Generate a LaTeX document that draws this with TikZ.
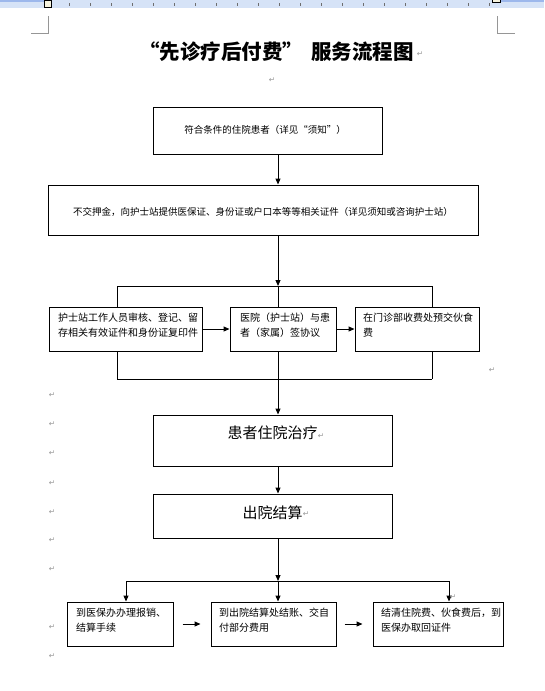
\documentclass[tikz,border=0pt]{standalone}
\usepackage{fontspec}
\newfontfamily\cjk{Noto Sans CJK SC}
\newfontfamily\dvs{DejaVu Sans}
\usetikzlibrary{arrows.meta,calc}
\definecolor{rulerbg}{RGB}{214,227,247}
\definecolor{rulerdk}{RGB}{157,184,236}
\definecolor{markgray}{RGB}{150,150,150}
\definecolor{tickgray}{RGB}{110,110,110}
\definecolor{pale}{RGB}{246,243,222}
\begin{document}
\begin{tikzpicture}[x=1pt,y=-1pt,
  box/.style={draw, line width=1pt, inner sep=0pt},
  txt/.style={font=\cjk\fontsize{10}{15}\selectfont, inner sep=0pt, align=left, anchor=north west},
  stxt/.style={font=\cjk\fontsize{9.5}{12}\selectfont, inner sep=0pt},
  btxt/.style={font=\cjk\fontsize{15}{18}\selectfont, inner sep=0pt},
  arr/.style={line width=1pt, -{Triangle[length=6pt,width=5pt]}},
  ln/.style={line width=1pt},
  ret/.style={font=\dvs\fontsize{7.5}{8}\selectfont, text=markgray, inner sep=0pt}]
\useasboundingbox (0,0) rectangle (544,691);
\fill[white] (0,0) rectangle (544,691);
% ruler
\fill[rulerbg] (0,0) rectangle (544,8);
\fill[rulerdk] (0,0) rectangle (44,2);
\fill[rulerdk] (501,0) rectangle (544,2);
\foreach \i in {0,...,20} \draw[tickgray, line width=0.8pt] ({69+21*\i},3) -- ({69+21*\i},6);
\draw[fill=pale, line width=1pt] (44.5,0) rectangle (51.5,7);
\draw[fill=pale, line width=1pt] (492.5,-4) rectangle (500.5,2);
% crop marks
\draw[markgray, line width=1pt] (48,16) -- (48,33) -- (31,33);
\draw[markgray, line width=1pt] (497,16) -- (497,33) -- (515,33);
% title
\node[font=\cjk\bfseries\fontsize{20.5}{24}\selectfont, inner sep=0pt] (title) at (275,52) {\hspace{3pt}“先诊疗后付费”\hspace{8pt}服务流程图};
% boxes
\node[box, minimum width=229pt, minimum height=47pt] (b1) at (267.5,130.5) {};
\node[box, minimum width=430pt, minimum height=50pt] (b2) at (263,210) {};
\node[box, minimum width=153pt, minimum height=44pt] (b3a) at (125.5,329) {};
\node[box, minimum width=106pt, minimum height=44pt] (b3b) at (283,329) {};
\node[box, minimum width=124pt, minimum height=44pt] (b3c) at (417,329) {};
\node[box, minimum width=239pt, minimum height=51pt] (b4) at (272.5,440.5) {};
\node[box, minimum width=239pt, minimum height=44pt] (b5) at (272.5,516) {};
\node[box, minimum width=106pt, minimum height=44pt] (b6a) at (120,624) {};
\node[box, minimum width=125pt, minimum height=44pt] (b6b) at (273.5,624) {};
\node[box, minimum width=130pt, minimum height=44pt] (b6c) at (438,624) {};
% texts
\node[stxt] (t1) at (265,130) {符合条件的住院患者（详见“须知”）};
\node[stxt] (t2) at (263,212) {不交押金，向护士站提供医保证、身份证或户口本等等相关证件（详见须知或咨询护士站）};
\node[txt] (t3a) at (58,313) {护士站工作人员审核、登记、留\\存相关有效证件和身份证复印件};
\node[txt] (t3b) at (240,313) {医院（护士站）与患\\者（家属）签协议};
\node[txt] (t3c) at (363,313) {在门诊部收费处预交伙食\\费};
\node[btxt] (t4) at (272.5,433) {患者住院治疗};
\node[btxt] (t5) at (272.5,513) {出院结算};
\node[txt] (t6a) at (76,608) {到医保办办理报销、\\结算手续};
\node[txt] (t6b) at (219,608) {到出院结算处结账、交自\\付部分费用};
\node[txt] (t6c) at (381,608) {结清住院费、伙食费后，到\\医保办取回证件};
% connectors
\coordinate (mx) at (278,0);
\coordinate (fTL) at (117,286);
\coordinate (fTM) at (278,286);
\coordinate (fTR) at (432,286);
\coordinate (fBL) at (117,379);
\coordinate (fBM) at (278,379);
\coordinate (fBR) at (432,379);
\coordinate (jL) at (126,581);
\coordinate (jM) at (278,581);
\coordinate (jR) at (449,581);
\draw[arr] (b1.south -| mx) -- (b2.north -| mx);
\draw[arr] (b2.south -| mx) -- (fTM);
\draw[ln] (fTL) -- (fTR);
\draw[ln] (fBL) -- (fBR);
\draw[ln] (fTL) -- (fTL |- b3a.north);
\draw[ln] (fTM) -- (fTM |- b3b.north);
\draw[ln] (fTR) -- (fTR |- b3c.north);
\draw[ln] (fBL |- b3a.south) -- (fBL);
\draw[ln] (fBM |- b3b.south) -- (fBM);
\draw[ln] (fBR |- b3c.south) -- (fBR);
\draw[arr] (b3a) -- (b3b);
\draw[arr] (b3b) -- (b3c);
\draw[arr] (fBM) -- (fBM |- b4.north);
\draw[arr] (b4.south -| mx) -- (b5.north -| mx);
\draw[arr] (b5.south -| mx) -- (jM);
\draw[ln] (jL) -- (jR);
\draw[arr] (jL) -- (jL |- b6a.north);
\draw[arr] (jM) -- (jM |- b6b.north);
\draw[arr] (jR) -- (jR |- b6c.north);
\draw[arr, shorten <=9pt, shorten >=10pt] (b6a) -- (b6b);
\draw[arr, shorten <=8pt, shorten >=10pt] (b6b) -- (b6c);
% paragraph marks
\foreach \p [count=\k] in {(420,54),(272,80),(492,370),(52,395),(52,424),(52,453),(52,483),(52,512),(52,540),(52,569),(52,627),(52,656),(321,436),(306,514),(453,597)}
  \node[ret] (r\k) at \p {↵};
\end{tikzpicture}
\end{document}
